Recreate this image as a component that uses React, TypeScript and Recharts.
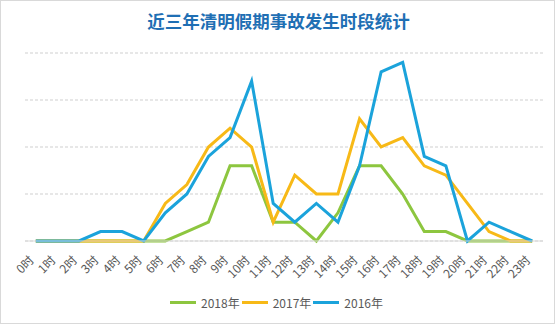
import { LineChart, Line, XAxis, YAxis, CartesianGrid, Legend } from 'recharts'

const hours = ['0时', '1时', '2时', '3时', '4时', '5时', '6时', '7时', '8时', '9时', '10时', '11时', '12时', '13时', '14时', '15时', '16时', '17时', '18时', '19时', '20时', '21时', '22时', '23时']
const y2018 = [0, 0, 0, 0, 0, 0, 0, 1, 2, 8, 8, 2, 2, 0, 3, 8, 8, 5, 1, 1, 0, 0, 0, 0]
const y2017 = [0, 0, 0, 0, 0, 0, 4, 6, 10, 12, 10, 2, 7, 5, 5, 13, 10, 11, 8, 7, 4, 1, 0, 0]
const y2016 = [0, 0, 0, 1, 1, 0, 3, 5, 9, 11, 17, 4, 2, 4, 2, 8, 18, 19, 9, 8, 0, 2, 1, 0]

const series = [
    { key: '2018年', values: y2018, color: '#8dc63f' },
    { key: '2017年', values: y2017, color: '#f7b917' },
    { key: '2016年', values: y2016, color: '#1ba3db' },
]

const data = hours.map((h, i) => {
    const row: Record<string, string | number> = { hour: h }
    series.forEach((s) => {
        row[s.key] = s.values[i]
    })
    return row
})

const FONT = '"Noto Sans CJK SC", "Noto Sans", sans-serif'

function HourTick({ x, y, payload }: any) {
    return (
        <g transform={`translate(${x - 1},${y + 12}) rotate(-45)`}>
            <text x={0} y={0} textAnchor="end" fill="#595959" fontSize={12} fontFamily={FONT}>
                {payload.value}
            </text>
        </g>
    )
}

function LegendContent() {
    return (
        <div style={{ display: 'flex', justifyContent: 'center', alignItems: 'center', fontFamily: FONT, fontSize: 12, color: '#595959' }}>
            {series.map((s) => (
                <div key={s.key} style={{ display: 'flex', alignItems: 'center', marginRight: 2 }}>
                    <span style={{ display: 'inline-block', width: 26, height: 3, background: s.color, marginRight: 5 }} />
                    <span>{s.key}</span>
                </div>
            ))}
        </div>
    )
}

function App() {
    return (
        <div
            style={{
                position: 'absolute',
                left: 0,
                top: 0,
                width: 555,
                height: 324,
                background: '#fff',
                border: '1px solid #d9d9d9',
                boxSizing: 'border-box',
                fontFamily: FONT,
            }}
        >
            <div
                style={{
                    position: 'absolute',
                    top: 8,
                    left: 0,
                    width: 555,
                    textAlign: 'center',
                    fontSize: 17.5,
                    fontWeight: 'bold',
                    color: '#1f6fb4',
                    lineHeight: '24px',
                }}
            >
                近三年清明假期事故发生时段统计
            </div>
            <div style={{ position: 'absolute', left: -1, top: -1 }}>
                <LineChart width={555} height={324} data={data} margin={{ top: 53, right: 12, left: 25, bottom: 33 }}>
                    <CartesianGrid vertical={false} stroke="#cfcfcf" strokeDasharray="3 2" />
                    <XAxis
                        dataKey="hour"
                        interval={0}
                        height={50}
                        tickLine={false}
                        axisLine={{ stroke: '#d9d9d9' }}
                        padding={{ left: 10.8, right: 10.8 }}
                        tick={<HourTick />}
                    />
                    <YAxis hide domain={[0, 20]} ticks={[0, 5, 10, 15, 20]} />
                    <Legend
                        layout="horizontal"
                        verticalAlign="middle"
                        align="center"
                        content={<LegendContent />}
                        wrapperStyle={{ top: 294, left: 0, width: 555 }}
                    />
                    {series.map((s) => (
                        <Line
                            key={s.key}
                            dataKey={s.key}
                            stroke={s.color}
                            strokeWidth={3}
                            dot={false}
                            activeDot={false}
                            isAnimationActive={false}
                            strokeLinejoin="miter"
                        />
                    ))}
                </LineChart>
            </div>
        </div>
    )
}

export default App
